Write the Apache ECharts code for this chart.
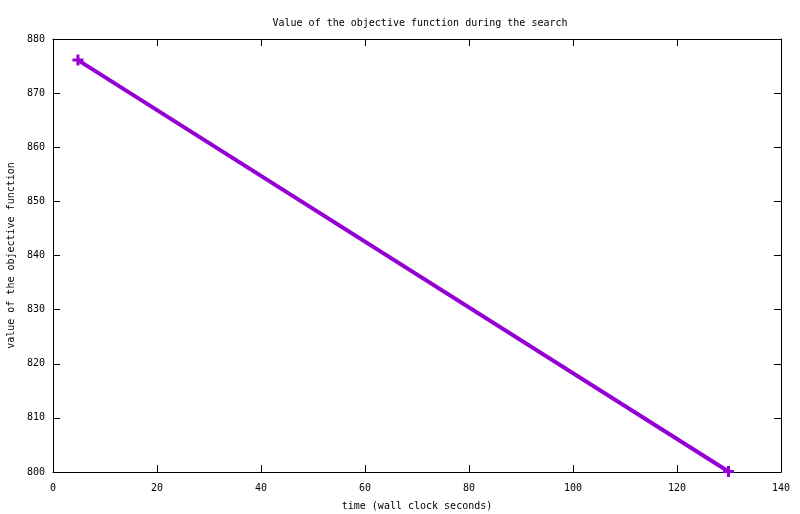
<!DOCTYPE html>
<html>
<head>
<meta charset="utf-8">
<script src="https://cdn.jsdelivr.net/npm/echarts@6/dist/echarts.min.js"></script>
<style>
  html, body { margin: 0; padding: 0; background: #fff; }
  #chart { width: 800px; height: 514px; }
</style>
</head>
<body>
<div id="chart"></div>
<script>
const timeSeconds = [4.8, 129.9]
const objectiveValues = [876.1, 800.1]

const font = 'DejaVu Sans Mono'
const plus = 'path://M4,0H7V4H11V7H7V11H4V7H0V4H4Z'

let mychart = echarts.init(document.getElementById('chart'))
const tickStyle = { inside: true, length: 7, lineStyle: { color: '#000', width: 1 } }
const lineStyle = { show: true, onZero: false, lineStyle: { color: '#000', width: 1 } }
const labelStyle = { color: '#000', fontFamily: font, fontSize: 10 }

let option = {
  animation: false,
  backgroundColor: '#fff',
  title: {
    text: 'Value of the objective function during the search',
    left: 415,
    top: 13,
    textAlign: 'center',
    textStyle: { fontFamily: font, fontSize: 10, fontWeight: 'normal', color: '#000' }
  },
  grid: { left: 53, right: 19, top: 39, bottom: 42, containLabel: false, outerBoundsMode: 'none' },
  xAxis: [
    {
      type: 'value', min: 0, max: 140, interval: 20,
      name: 'time (wall clock seconds)', nameLocation: 'middle', nameGap: 29,
      nameTextStyle: labelStyle,
      axisLine: lineStyle, axisTick: tickStyle,
      axisLabel: Object.assign({ margin: 11 }, labelStyle),
      splitLine: { show: false }
    },
    {
      type: 'value', position: 'top', min: 0, max: 140, interval: 20,
      axisLine: lineStyle, axisTick: tickStyle,
      axisLabel: { show: false }, splitLine: { show: false }
    }
  ],
  yAxis: [
    {
      type: 'value', min: 800, max: 880, interval: 10,
      name: 'value of the objective function', nameLocation: 'middle', nameGap: 37,
      nameTextStyle: labelStyle,
      axisLine: lineStyle, axisTick: tickStyle,
      axisLabel: Object.assign({ margin: 8 }, labelStyle),
      splitLine: { show: false }
    },
    {
      type: 'value', position: 'right', min: 800, max: 880, interval: 10,
      axisLine: lineStyle, axisTick: tickStyle,
      axisLabel: { show: false }, splitLine: { show: false }
    }
  ],
  series: [
    {
      type: 'line',
      data: timeSeconds.map((t, i) => [t, objectiveValues[i]]),
      symbol: plus,
      symbolSize: 11,
      showAllSymbol: true,
      itemStyle: { color: '#9400d3' },
      lineStyle: { color: '#9400d3', width: 4 }
    }
  ]
}
mychart.setOption(option)
</script>
</body>
</html>
